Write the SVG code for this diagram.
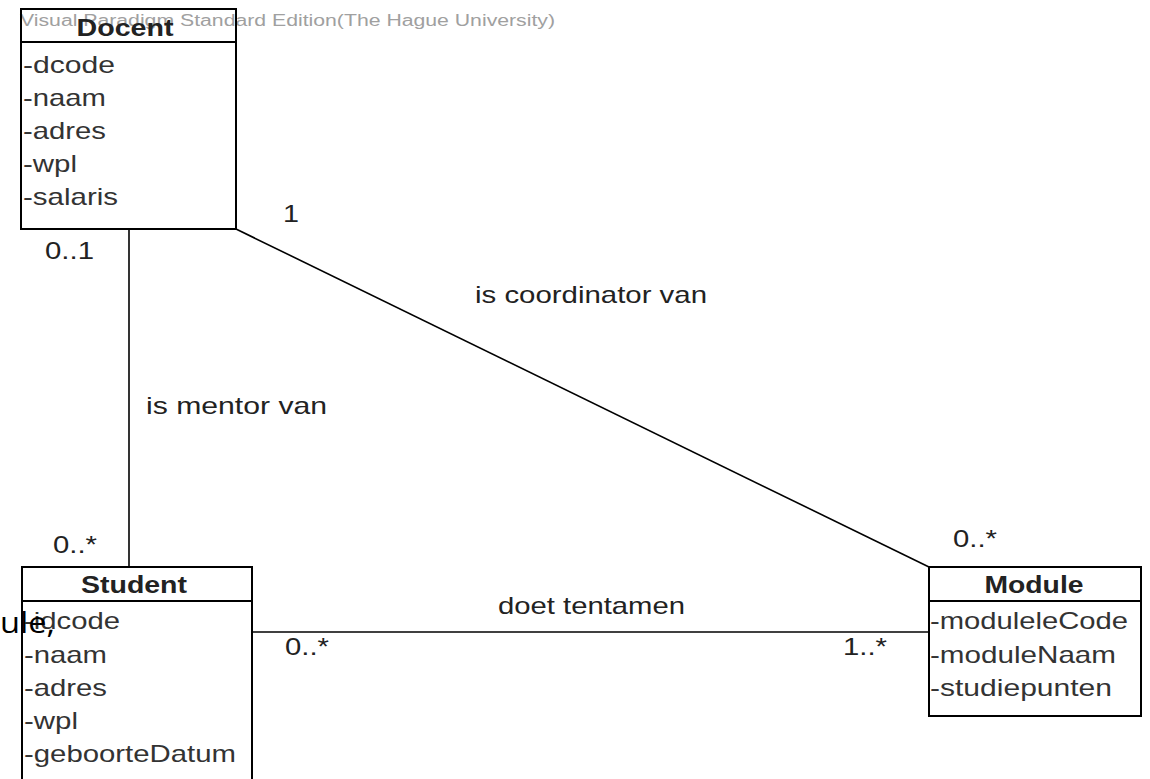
<svg xmlns="http://www.w3.org/2000/svg" width="1150" height="779" viewBox="0 0 1150 779">
<style>
.box{fill:none;stroke:#000;stroke-width:2}
.sep{stroke:#000;stroke-width:2}
.t{font-family:"Liberation Sans",Arial,sans-serif;font-size:24px;fill:#333}
.h{font-family:"Liberation Sans",Arial,sans-serif;font-size:24px;font-weight:bold;fill:#222;text-anchor:middle}
.lbl{font-family:"Liberation Sans",Arial,sans-serif;font-size:24px;fill:#222}
.wm{font-family:"Liberation Sans",Arial,sans-serif;font-size:16px;fill:#a0a0a0}
.edge{stroke:#000;stroke-width:1.6;fill:none}
</style>
<rect x="0" y="0" width="1150" height="779" fill="#fff"/>
<text class="wm" x="20" y="26" textLength="535" lengthAdjust="spacingAndGlyphs">Visual Paradigm Standard Edition(The Hague University)</text>
<g id="connectors">
<line class="edge" x1="129" y1="229" x2="129" y2="567"/>
<line class="edge" x1="236" y1="229" x2="929" y2="567"/>
<line class="edge" x1="252" y1="632" x2="929" y2="632"/>
<text class="lbl" x="283" y="222" textLength="16" lengthAdjust="spacingAndGlyphs">1</text>
<text class="lbl" x="45" y="259" textLength="49" lengthAdjust="spacingAndGlyphs">0..1</text>
<text class="lbl" x="475" y="303" textLength="232" lengthAdjust="spacingAndGlyphs">is coordinator van</text>
<text class="lbl" x="146" y="414" textLength="181" lengthAdjust="spacingAndGlyphs">is mentor van</text>
<text class="lbl" x="53" y="553" textLength="44" lengthAdjust="spacingAndGlyphs">0..*</text>
<text class="lbl" x="953" y="547" textLength="44" lengthAdjust="spacingAndGlyphs">0..*</text>
<text class="lbl" x="498" y="614" textLength="187" lengthAdjust="spacingAndGlyphs">doet tentamen</text>
<text class="lbl" x="285" y="655" textLength="44" lengthAdjust="spacingAndGlyphs">0..*</text>
<text class="lbl" x="843" y="655" textLength="44" lengthAdjust="spacingAndGlyphs">1..*</text>
</g>
<g id="docent">
<rect class="box" x="21" y="9" width="215" height="220"/>
<line class="sep" x1="21" y1="42" x2="236" y2="42"/>
<text class="h" x="125" y="36" textLength="97" lengthAdjust="spacingAndGlyphs">Docent</text>
<text class="t" x="23" y="73" textLength="92" lengthAdjust="spacingAndGlyphs">-dcode</text>
<text class="t" x="23" y="106" textLength="83" lengthAdjust="spacingAndGlyphs">-naam</text>
<text class="t" x="23" y="139" textLength="83" lengthAdjust="spacingAndGlyphs">-adres</text>
<text class="t" x="23" y="172" textLength="54" lengthAdjust="spacingAndGlyphs">-wpl</text>
<text class="t" x="23" y="205" textLength="95" lengthAdjust="spacingAndGlyphs">-salaris</text>
</g>
<g id="student">
<rect class="box" x="22" y="567" width="230" height="230"/>
<line class="sep" x1="22" y1="601" x2="252" y2="601"/>
<text class="h" x="134" y="593" textLength="106" lengthAdjust="spacingAndGlyphs">Student</text>
<text class="t" x="24" y="629" textLength="96" lengthAdjust="spacingAndGlyphs">-idcode</text>
<text class="t" x="24" y="663" textLength="83" lengthAdjust="spacingAndGlyphs">-naam</text>
<text class="t" x="24" y="696" textLength="83" lengthAdjust="spacingAndGlyphs">-adres</text>
<text class="t" x="24" y="729" textLength="54" lengthAdjust="spacingAndGlyphs">-wpl</text>
<text class="t" x="24" y="762" textLength="212" lengthAdjust="spacingAndGlyphs">-geboorteDatum</text>
</g>
<g id="module">
<rect class="box" x="929" y="567" width="212" height="149"/>
<line class="sep" x1="929" y1="601" x2="1141" y2="601"/>
<text class="h" x="1034" y="593" textLength="99" lengthAdjust="spacingAndGlyphs">Module</text>
<text class="t" x="930" y="629" textLength="198" lengthAdjust="spacingAndGlyphs">-moduleleCode</text>
<text class="t" x="930" y="663" textLength="186" lengthAdjust="spacingAndGlyphs">-moduleNaam</text>
<text class="t" x="930" y="696" textLength="182" lengthAdjust="spacingAndGlyphs">-studiepunten</text>
</g>
<text x="0" y="633" font-family="'Open Sans','Noto Sans',sans-serif" font-size="30" fill="#000" textLength="55" lengthAdjust="spacingAndGlyphs">ule,</text>
</svg>
